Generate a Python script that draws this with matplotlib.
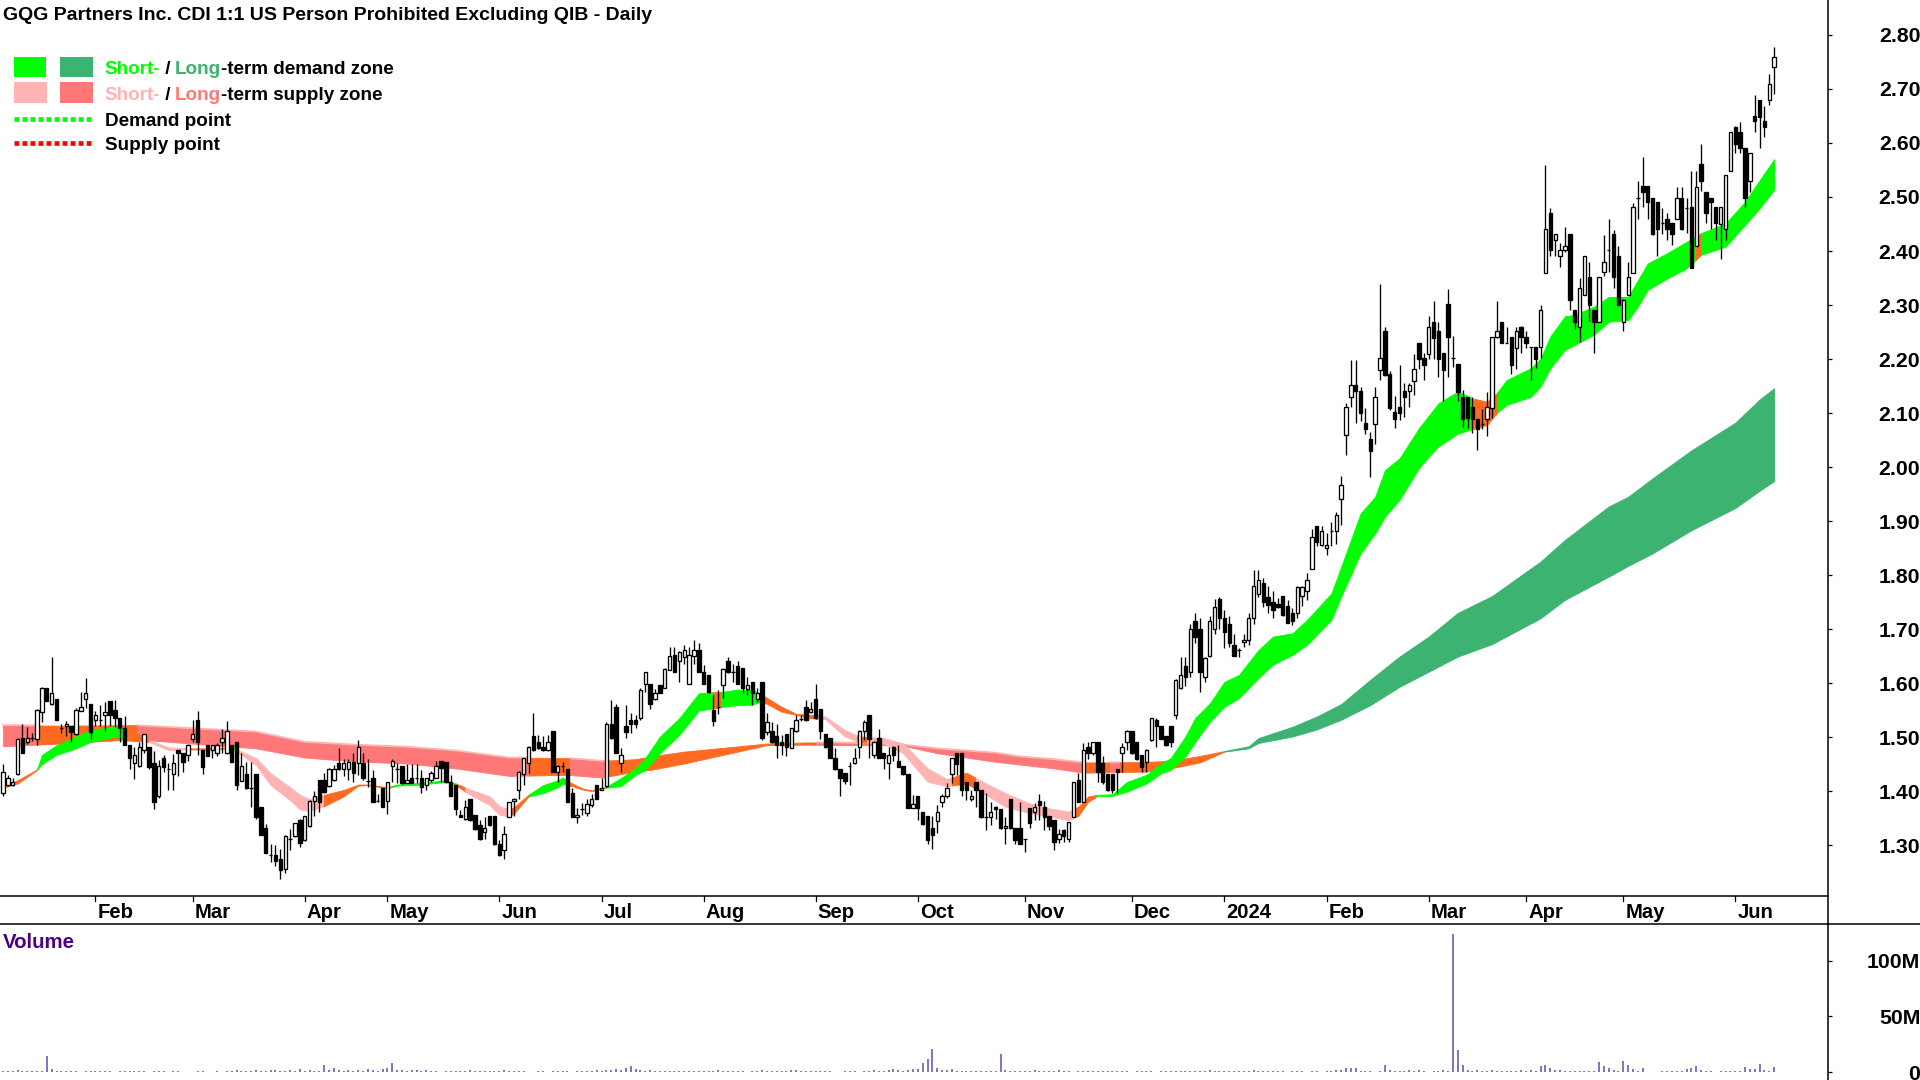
import numpy as np
import matplotlib
matplotlib.use('Agg')
import matplotlib.pyplot as plt
from matplotlib.patches import Rectangle

plt.rcParams['font.family'] = ['Liberation Sans', 'DejaVu Sans']
plt.rcParams['font.weight'] = 'bold'

# Daily candles
opens = [
    1.396,1.411,1.411,1.431,1.499,1.491,1.499,1.496,1.546,1.591,
    1.561,1.570,1.516,1.520,1.520,1.505,1.549,1.570,1.561,1.531,
    1.532,1.540,1.567,1.550,1.535,1.516,1.485,1.451,1.446,1.476,
    1.481,1.451,1.390,1.461,1.441,1.431,1.476,1.470,1.466,1.496,
    1.532,1.476,1.485,1.476,1.470,1.491,1.470,1.485,1.491,1.419,
    1.432,1.406,1.432,1.371,1.332,1.281,1.282,1.275,1.255,1.312,
    1.316,1.346,1.309,1.336,1.382,1.420,1.420,1.409,1.420,1.451,
    1.440,1.440,1.453,1.451,1.451,1.419,1.425,1.382,1.405,1.382,
    1.446,1.441,1.446,1.415,1.425,1.425,1.425,1.411,1.420,1.425,
    1.456,1.453,1.417,1.411,1.356,1.348,1.385,1.356,1.337,1.325,
    1.353,1.353,1.301,1.291,1.351,1.381,1.401,1.431,1.451,1.501,
    1.491,1.482,1.476,1.511,1.435,1.446,1.441,1.396,1.351,1.367,
    1.360,1.375,1.411,1.401,1.409,1.525,1.555,1.451,1.520,1.532,
    1.532,1.535,1.599,1.599,1.570,1.596,1.590,1.625,1.652,1.640,
    1.648,1.599,1.650,1.661,1.621,1.615,1.550,1.555,1.596,1.641,
    1.621,1.632,1.627,1.589,1.601,1.570,1.601,1.510,1.512,1.501,
    1.491,1.506,1.480,1.511,1.533,1.556,1.546,1.570,1.551,1.506,
    1.498,1.461,1.441,1.433,1.446,1.451,1.481,1.512,1.541,1.466,
    1.498,1.470,1.451,1.482,1.456,1.446,1.432,1.369,1.391,1.361,
    1.353,1.331,1.345,1.380,1.390,1.431,1.470,1.470,1.416,1.385,
    1.416,1.401,1.351,1.351,1.370,1.366,1.331,1.385,1.331,1.331,
    1.311,1.368,1.361,1.382,1.371,1.353,1.346,1.311,1.327,1.311,
    1.351,1.420,1.380,1.482,1.470,1.491,1.451,1.432,1.432,1.441,
    1.470,1.490,1.512,1.491,1.467,1.454,1.494,1.532,1.520,1.501,
    1.520,1.540,1.590,1.632,1.620,1.715,1.700,1.612,1.650,1.700,
    1.755,1.720,1.710,1.670,1.661,1.676,1.680,1.720,1.765,1.785,
    1.760,1.750,1.746,1.761,1.742,1.730,1.729,1.761,1.771,1.811,
    1.891,1.856,1.850,1.881,1.881,1.940,2.059,2.130,2.151,2.140,
    2.081,2.051,2.080,2.180,2.251,2.172,2.101,2.111,2.140,2.140,
    2.160,2.230,2.201,2.209,2.269,2.251,2.211,2.301,2.201,2.190,
    2.130,2.130,2.111,2.089,2.080,2.089,2.110,2.240,2.269,2.230,
    2.240,2.220,2.260,2.240,2.222,2.222,2.222,2.360,2.470,2.420,
    2.390,2.401,2.431,2.290,2.260,2.319,2.351,2.290,2.269,2.361,
    2.401,2.431,2.390,2.269,2.319,2.360,2.499,2.520,2.520,2.499,
    2.490,2.451,2.460,2.451,2.460,2.499,2.480,2.481,2.410,2.561,
    2.510,2.499,2.481,2.450,2.440,2.549,2.630,2.620,2.590,2.530,
    2.650,2.680,2.641,2.680,2.740]

highs = [
    1.450,1.430,1.424,1.498,1.524,1.518,1.508,1.551,1.592,1.591,
    1.649,1.570,1.524,1.530,1.520,1.553,1.584,1.610,1.562,1.549,
    1.559,1.565,1.567,1.569,1.535,1.539,1.485,1.482,1.491,1.506,
    1.481,1.475,1.457,1.467,1.451,1.469,1.476,1.470,1.487,1.532,
    1.549,1.476,1.485,1.485,1.488,1.514,1.530,1.485,1.491,1.470,
    1.454,1.454,1.432,1.371,1.339,1.301,1.300,1.292,1.318,1.329,
    1.341,1.348,1.353,1.383,1.400,1.420,1.434,1.442,1.448,1.480,
    1.459,1.459,1.470,1.494,1.470,1.459,1.439,1.394,1.405,1.417,
    1.459,1.451,1.446,1.450,1.450,1.450,1.439,1.425,1.437,1.456,
    1.456,1.453,1.430,1.411,1.365,1.383,1.385,1.356,1.346,1.351,
    1.353,1.353,1.309,1.335,1.380,1.388,1.437,1.462,1.483,1.545,
    1.504,1.501,1.504,1.511,1.448,1.454,1.441,1.405,1.368,1.377,
    1.385,1.394,1.411,1.424,1.527,1.568,1.561,1.479,1.559,1.544,
    1.540,1.590,1.621,1.599,1.588,1.596,1.627,1.667,1.667,1.659,
    1.670,1.667,1.680,1.675,1.633,1.615,1.578,1.587,1.627,1.649,
    1.636,1.640,1.627,1.612,1.601,1.590,1.601,1.545,1.528,1.525,
    1.504,1.506,1.517,1.541,1.540,1.569,1.565,1.599,1.551,1.506,
    1.498,1.479,1.441,1.433,1.453,1.479,1.513,1.532,1.541,1.493,
    1.515,1.470,1.482,1.483,1.485,1.446,1.432,1.393,1.391,1.361,
    1.353,1.353,1.374,1.395,1.414,1.462,1.470,1.470,1.416,1.402,
    1.416,1.401,1.396,1.379,1.373,1.366,1.351,1.385,1.331,1.379,
    1.311,1.368,1.377,1.395,1.382,1.353,1.346,1.329,1.329,1.342,
    1.416,1.433,1.488,1.491,1.491,1.491,1.465,1.432,1.432,1.441,
    1.488,1.513,1.512,1.491,1.467,1.477,1.536,1.536,1.520,1.501,
    1.520,1.607,1.649,1.649,1.710,1.730,1.720,1.648,1.725,1.755,
    1.760,1.735,1.725,1.690,1.664,1.690,1.730,1.810,1.810,1.795,
    1.780,1.770,1.757,1.761,1.754,1.738,1.779,1.779,1.803,1.885,
    1.891,1.890,1.877,1.899,1.916,1.984,2.119,2.199,2.199,2.149,
    2.109,2.064,2.149,2.338,2.259,2.178,2.131,2.188,2.155,2.156,
    2.209,2.230,2.211,2.280,2.308,2.269,2.211,2.329,2.243,2.190,
    2.143,2.130,2.129,2.089,2.108,2.138,2.241,2.308,2.269,2.260,
    2.240,2.259,2.261,2.251,2.222,2.222,2.300,2.559,2.479,2.431,
    2.414,2.444,2.431,2.290,2.350,2.390,2.379,2.290,2.351,2.430,
    2.459,2.439,2.409,2.311,2.379,2.488,2.530,2.574,2.520,2.499,
    2.490,2.480,2.470,2.451,2.518,2.518,2.499,2.548,2.549,2.598,
    2.510,2.499,2.481,2.481,2.541,2.621,2.631,2.638,2.590,2.582,
    2.689,2.680,2.669,2.728,2.777]

lows = [
    1.391,1.410,1.409,1.430,1.470,1.487,1.493,1.485,1.527,1.567,
    1.559,1.532,1.507,1.501,1.491,1.504,1.549,1.553,1.496,1.520,
    1.520,1.512,1.520,1.518,1.491,1.485,1.440,1.422,1.445,1.471,
    1.440,1.367,1.388,1.436,1.402,1.402,1.427,1.436,1.456,1.490,
    1.467,1.432,1.464,1.461,1.464,1.470,1.469,1.453,1.402,1.418,
    1.404,1.371,1.349,1.319,1.285,1.268,1.262,1.238,1.248,1.291,
    1.314,1.297,1.308,1.334,1.353,1.362,1.396,1.407,1.419,1.439,
    1.428,1.420,1.417,1.430,1.420,1.408,1.380,1.380,1.370,1.357,
    1.417,1.415,1.413,1.414,1.414,1.414,1.396,1.402,1.417,1.424,
    1.417,1.415,1.390,1.356,1.351,1.346,1.345,1.328,1.309,1.311,
    1.336,1.300,1.280,1.274,1.351,1.353,1.386,1.412,1.434,1.475,
    1.477,1.475,1.475,1.435,1.417,1.436,1.380,1.351,1.341,1.356,
    1.353,1.371,1.385,1.401,1.407,1.497,1.470,1.436,1.498,1.507,
    1.516,1.532,1.583,1.552,1.569,1.581,1.590,1.624,1.620,1.602,
    1.636,1.598,1.636,1.620,1.599,1.581,1.521,1.543,1.572,1.618,
    1.602,1.598,1.581,1.578,1.559,1.565,1.495,1.504,1.488,1.462,
    1.467,1.464,1.479,1.510,1.530,1.530,1.544,1.533,1.496,1.480,
    1.461,1.439,1.391,1.413,1.412,1.450,1.462,1.495,1.462,1.462,
    1.461,1.440,1.422,1.456,1.444,1.430,1.368,1.368,1.346,1.338,
    1.302,1.292,1.322,1.371,1.388,1.414,1.430,1.391,1.383,1.382,
    1.370,1.350,1.327,1.337,1.348,1.329,1.302,1.329,1.302,1.301,
    1.288,1.332,1.346,1.346,1.327,1.327,1.291,1.303,1.306,1.306,
    1.351,1.379,1.379,1.459,1.467,1.417,1.413,1.400,1.396,1.396,
    1.436,1.476,1.469,1.457,1.436,1.436,1.493,1.482,1.496,1.484,
    1.482,1.533,1.589,1.595,1.612,1.674,1.583,1.602,1.648,1.690,
    1.700,1.664,1.667,1.650,1.648,1.666,1.670,1.710,1.760,1.740,
    1.730,1.720,1.738,1.724,1.711,1.708,1.720,1.742,1.753,1.811,
    1.853,1.854,1.837,1.853,1.857,1.893,2.022,2.112,2.082,2.086,
    2.061,1.981,2.043,2.161,2.169,2.106,2.072,2.087,2.093,2.112,
    2.133,2.181,2.161,2.200,2.200,2.167,2.122,2.167,2.186,2.123,
    2.075,2.072,2.063,2.032,2.070,2.058,2.090,2.238,2.230,2.229,
    2.172,2.181,2.212,2.220,2.161,2.183,2.201,2.359,2.391,2.391,
    2.370,2.399,2.291,2.255,2.232,2.318,2.271,2.211,2.268,2.353,
    2.362,2.331,2.300,2.252,2.318,2.359,2.460,2.482,2.460,2.430,
    2.391,2.431,2.420,2.411,2.459,2.439,2.433,2.369,2.409,2.511,
    2.451,2.440,2.420,2.385,2.420,2.548,2.582,2.581,2.482,2.510,
    2.621,2.591,2.612,2.670,2.691]

closes = [
    1.435,1.425,1.417,1.496,1.470,1.499,1.499,1.550,1.591,1.567,
    1.582,1.532,1.516,1.525,1.510,1.550,1.556,1.582,1.510,1.540,
    1.532,1.546,1.540,1.535,1.516,1.485,1.461,1.466,1.481,1.505,
    1.445,1.380,1.446,1.445,1.441,1.451,1.470,1.454,1.485,1.505,
    1.490,1.445,1.465,1.485,1.485,1.499,1.511,1.454,1.411,1.446,
    1.405,1.406,1.351,1.319,1.285,1.281,1.271,1.254,1.317,1.312,
    1.340,1.304,1.353,1.382,1.390,1.380,1.399,1.440,1.440,1.440,
    1.451,1.453,1.434,1.481,1.424,1.419,1.380,1.382,1.370,1.417,
    1.456,1.441,1.414,1.420,1.415,1.425,1.407,1.425,1.433,1.446,
    1.442,1.417,1.390,1.366,1.351,1.370,1.346,1.330,1.311,1.331,
    1.337,1.301,1.281,1.320,1.380,1.385,1.436,1.461,1.482,1.476,
    1.479,1.476,1.491,1.435,1.446,1.446,1.380,1.351,1.355,1.367,
    1.376,1.385,1.385,1.406,1.525,1.499,1.470,1.467,1.510,1.524,
    1.524,1.587,1.620,1.562,1.581,1.582,1.626,1.650,1.620,1.657,
    1.661,1.651,1.661,1.620,1.599,1.584,1.530,1.555,1.626,1.620,
    1.621,1.599,1.590,1.596,1.581,1.581,1.498,1.527,1.490,1.485,
    1.485,1.482,1.516,1.532,1.533,1.532,1.551,1.535,1.512,1.481,
    1.461,1.440,1.425,1.419,1.446,1.462,1.511,1.527,1.496,1.491,
    1.462,1.461,1.467,1.467,1.445,1.431,1.369,1.376,1.369,1.339,
    1.309,1.319,1.361,1.391,1.405,1.461,1.450,1.401,1.401,1.391,
    1.401,1.351,1.351,1.361,1.367,1.331,1.336,1.331,1.309,1.302,
    1.311,1.340,1.370,1.374,1.351,1.336,1.305,1.320,1.316,1.342,
    1.416,1.380,1.476,1.470,1.490,1.435,1.416,1.401,1.401,1.435,
    1.482,1.512,1.470,1.459,1.445,1.476,1.535,1.520,1.496,1.485,
    1.491,1.606,1.615,1.612,1.700,1.685,1.620,1.646,1.715,1.740,
    1.720,1.695,1.675,1.650,1.661,1.680,1.720,1.780,1.790,1.750,
    1.745,1.735,1.740,1.726,1.712,1.714,1.777,1.777,1.791,1.871,
    1.862,1.881,1.856,1.881,1.911,1.966,2.111,2.151,2.140,2.100,
    2.071,2.030,2.130,2.201,2.170,2.110,2.089,2.100,2.130,2.151,
    2.181,2.200,2.189,2.260,2.238,2.200,2.180,2.240,2.201,2.138,
    2.089,2.090,2.089,2.071,2.080,2.111,2.240,2.251,2.230,2.230,
    2.189,2.251,2.240,2.230,2.222,2.200,2.290,2.440,2.401,2.431,
    2.401,2.410,2.309,2.269,2.331,2.390,2.300,2.269,2.351,2.380,
    2.401,2.351,2.300,2.309,2.351,2.481,2.499,2.510,2.490,2.431,
    2.440,2.451,2.440,2.431,2.499,2.440,2.480,2.369,2.519,2.530,
    2.470,2.490,2.451,2.481,2.540,2.620,2.599,2.590,2.499,2.581,
    2.640,2.649,2.630,2.710,2.760]

# Volume in millions
volumes = [
    0.5,1,1,1.5,1,0.8,1.2,1,0.6,14,
    3,1,0.8,1,0.5,1,0,0.6,0.8,1,
    0.5,1,0.8,0,0.8,0.6,1,0.5,0.8,0.6,
    0,1,0.6,0.5,0,0.5,0.8,0,0,0,
    0.6,1,0,0,0.5,0,1,0.6,1.5,1,
    0.8,1,2,1,0.6,1.5,2,1.2,0.8,2,
    1,3,1,2,1,0.8,6,2,4,2,
    1,1.5,1,2,0.8,3,1.5,1,3,4,
    8,2,2,1,1.5,2,1,1.5,0.5,1,
    0,1,0.5,0.8,1,0.6,2,1,1,1,
    0.8,0.6,1,1.5,1,1.2,0.8,0.6,0,0,
    0.5,0.8,0,0.6,1,0.8,0.5,0,0.6,1,
    1,0.8,2,1,1.5,2,3,2,4,5,
    3,2,1,1.5,1,0.8,1,0.6,1,0.8,
    1.2,1,0.8,1,0.6,1,0.8,1.5,1,0.8,
    0.6,1,0.8,0,1,0.6,1.5,1,0.8,1,
    0.6,1,1.5,2,1,0.8,1,0.6,1,1.2,
    0.8,0,0,0.6,0.8,1,0,0.5,1,1.5,
    1,1.2,2,3,2,1,1.5,3,3,8,
    12,21,4,2,1.5,3,1,1,0.8,0.6,
    0.8,1,0.6,1,0.8,16,2,1,1.2,1,
    0.8,1,1.5,1,0.8,1.2,1,1.5,1,0.8,
    0,0.6,1,0.8,0.5,0.8,1,0.6,1,0.8,
    1.2,0.6,0,0.5,0.8,1,0.6,0,0.8,1,
    1.2,1,0.8,1,0.6,0.8,0.5,1,1.5,1,
    1.2,0.8,1,1.2,1,0.8,1,1.5,1,0.8,
    1,0.8,1,0.6,0,0.8,0.6,0.5,0,0.8,
    0.6,0,0.5,1,2,1.5,4,4,3.6,0.8,
    0.5,0.8,0,0.6,6.6,1.5,0.8,1,0.8,1.5,
    1,1.5,1,0,0.8,1,1.5,1.2,124,20,
    6,1.5,1,1.5,1,0.8,1.5,1,1,0.8,
    1,1.2,1.5,1,1.5,0.8,5,6.6,4,1.5,
    1.5,1,0.8,1,1,0.8,1,1,9,5,
    4,1.5,1,10,6,3,1,3.6,0,0,
    0,0.8,0.8,0.8,1,1,3,3.6,5.4,2,
    1,0.8,0,1,0.8,1,1,0.8,4.5,3,
    3,7.5,1.5,1,4.5]

# Short and long term bands, sampled along the picture
short_x = [0,3,7,8,11,15,18,23,25,30,34,38,43,47,49,52,55,59,61,63,66,70,73,75,79,81,86,91,93,96,
           100,102,104,105,108,111,114,115,117,119,121,124,127,130,132,135,139,143,148,151,154,156,
           160,163,166,169,173,176,181,185,190,194,198,202,206,211,215,219,221,223,225,228,231,235,
           238,240,243,245,248,251,254,258,261,265,268,273,275,279,282,284,287,291,293,295,299,302,305,
           307,309,314,316,318,321,323,327,330,334,336,338,342,346,349,354,358,361,364]
short_upper = [1.409,1.420,1.440,1.467,1.485,1.501,1.513,1.520,1.518,1.494,1.481,1.479,1.479,1.481,1.473,1.461,1.433,1.407,1.393,1.385,1.393,1.402,1.412,1.412,1.407,1.412,1.415,1.420,1.414,1.403,
               1.390,1.372,1.366,1.370,1.393,1.411,1.420,1.425,1.414,1.405,1.401,1.408,1.424,1.442,1.461,1.501,1.535,1.581,1.584,1.588,1.587,1.578,
               1.556,1.543,1.541,1.538,1.513,1.501,1.498,1.488,1.442,1.422,1.434,1.414,1.396,1.377,1.368,1.362,1.371,1.390,1.393,1.394,1.417,1.430,
               1.451,1.461,1.501,1.535,1.562,1.602,1.615,1.661,1.686,1.692,1.717,1.766,1.815,1.914,1.945,1.994,2.016,2.072,2.095,2.118,2.140,2.127,2.121,
               2.137,2.161,2.183,2.201,2.242,2.279,2.282,2.297,2.315,2.315,2.346,2.377,2.396,2.417,2.433,2.451,2.491,2.531,2.570]
short_lower = [1.406,1.414,1.439,1.450,1.467,1.479,1.491,1.501,1.494,1.491,1.476,1.477,1.477,1.479,1.467,1.448,1.411,1.383,1.366,1.363,1.372,1.390,1.410,1.411,1.405,1.410,1.412,1.417,1.411,1.393,
               1.374,1.356,1.353,1.358,1.390,1.396,1.407,1.413,1.409,1.403,1.400,1.406,1.409,1.430,1.439,1.470,1.504,1.549,1.556,1.559,1.560,1.566,
               1.547,1.541,1.535,1.533,1.501,1.490,1.488,1.470,1.417,1.409,1.414,1.393,1.371,1.359,1.353,1.346,1.354,1.380,1.391,1.391,1.399,1.414,
               1.433,1.439,1.464,1.491,1.528,1.556,1.572,1.609,1.634,1.652,1.671,1.717,1.760,1.840,1.877,1.908,1.939,1.998,2.019,2.038,2.062,2.070,2.078,
               2.100,2.115,2.130,2.149,2.183,2.217,2.226,2.245,2.269,2.272,2.297,2.328,2.349,2.368,2.393,2.408,2.448,2.479,2.513]

long_x = [0,12,27,52,62,72,83,93,104,116,123,130,133,140,148,157,165,172,181,186,192,198,204,209,
          216,222,228,235,240,246,251,256,258,265,270,275,281,287,293,299,306,316,321,330,334,339,347,356,361,364]
long_upper = [1.522,1.521,1.522,1.510,1.491,1.486,1.482,1.475,1.462,1.461,1.456,1.459,1.464,1.473,1.480,1.488,1.490,1.490,1.488,1.485,1.479,1.475,1.471,1.464,
              1.459,1.453,1.453,1.454,1.456,1.465,1.474,1.483,1.498,1.519,1.538,1.561,1.606,1.649,1.686,1.730,1.761,1.825,1.865,1.927,1.945,1.979,2.031,2.082,2.125,2.146]
long_lower = [1.483,1.488,1.496,1.479,1.462,1.455,1.451,1.442,1.428,1.430,1.425,1.436,1.439,1.451,1.467,1.485,1.486,1.485,1.485,1.482,1.470,1.462,1.454,1.449,
              1.442,1.434,1.435,1.436,1.442,1.453,1.473,1.479,1.489,1.501,1.514,1.532,1.559,1.593,1.621,1.649,1.672,1.720,1.754,1.797,1.817,1.840,1.883,1.924,1.956,1.974]

# Where each band changes state: bar number it starts at, and the state
short_zone_start = [-0.5,7,25,30,38,46,48,66,80,93,95,104,108,116.5,124,146,147.5,156,167.5,175.5,177.6,195,200,220.5,224.5,302,307,348,349]
short_zone_state = ['mixed','demand','mixed','supply','mixed','demand','supply','mixed','demand','mixed','supply','mixed','demand','mixed','demand','mixed','demand','mixed','supply','mixed','supply','mixed','supply','mixed','demand','mixed','demand','mixed','demand']
long_zone_start = [-0.5,7,27.5,108,116.6,124,167,222,227.5,229.5,251]
long_zone_state = ['supply','mixed','supply','mixed','supply','mixed','supply','mixed','supply','mixed','demand']

month_bars = [19,39,62,79,102,123,144,167,188,210,232,251,272,293,313,333,356]
month_labels = ['Feb','Mar','Apr','May','Jun','Jul','Aug','Sep','Oct','Nov','Dec','2024','Feb','Mar','Apr','May','Jun']
price_ticks = [1.30,1.40,1.50,1.60,1.70,1.80,1.90,2.00,2.10,2.20,2.30,2.40,2.50,2.60,2.70,2.80]
volume_ticks = [0,50,100]
volume_tick_labels = ['0','50M','100M']

short_colors = {'demand': '#00FF00', 'supply': '#FFB3B3', 'mixed': '#FF6A20'}
long_colors = {'demand': '#3CB371', 'supply': '#FF7878', 'mixed': '#FF6A20'}

W, H = 1920, 1080

fig = plt.figure(figsize=(W / 100, H / 100), dpi=100, facecolor='white')
ax = fig.add_axes([0, (H - 896) / H, 1828 / W, 896 / H])
ax_vol = fig.add_axes([0, 0, 1828 / W, (H - 924) / H])

bars = np.arange(len(opens))
xlim = (-0.617, 375.06)
ax.set_xlim(xlim)
ax.set_ylim(1.2056, 2.8648)
ax_vol.set_xlim(xlim)
ax_vol.set_ylim(-7.2, 133.3)


def draw_band(x, upper, lower, starts, states, colors, z):
    # one polygon per state, clipped to the bars the state covers
    ends = starts[1:] + [len(opens)]
    for start, end, state in zip(starts, ends, states):
        clip = Rectangle((start, 0), end - start, 5, transform=ax.transData)
        poly = ax.fill_between(x, upper, lower, color=colors[state], lw=0.6, zorder=z)
        poly.set_clip_path(clip)
        if z == 1 and state == 'supply':
            # long supply band has a paler top edge
            edge, = ax.plot(x, upper, color='#FFB3B3', lw=1.3, zorder=z)
            edge.set_clip_path(clip)


draw_band(long_x, long_upper, long_lower, long_zone_start, long_zone_state, long_colors, 1)
draw_band(short_x, short_upper, short_lower, short_zone_start, short_zone_state, short_colors, 2)

# candles: white when the close is above the open
o = np.array(opens)
c = np.array(closes)
up = c >= o
ax.vlines(bars, lows, highs, color='black', lw=0.95, zorder=3)
ax.bar(bars, np.abs(c - o), bottom=np.minimum(o, c), width=0.7,
       color=np.where(up, 'white', 'black').tolist(), edgecolor='black', linewidth=0.95, zorder=4)

ax_vol.vlines(bars, 0, volumes, color='#5A5AB4', lw=1.15)

# axes
for a in (ax, ax_vol):
    for side in ('left', 'top', 'bottom'):
        a.spines[side].set_visible(False)
    a.spines['right'].set_linewidth(1.1)
    a.yaxis.tick_right()
    a.set_xticks([])
    a.patch.set_alpha(0)

ax.set_yticks(price_ticks)
ax.set_yticklabels(['%.2f' % t for t in price_ticks])
ax_vol.set_yticks(volume_ticks)
ax_vol.set_yticklabels(volume_tick_labels)
for a in (ax, ax_vol):
    a.tick_params(axis='y', length=3, width=0.9, pad=63.5, labelsize=15.3)
    for lab in a.get_yticklabels():
        lab.set_ha('right')
        lab.set_va('center_baseline')

# overlay in picture coordinates for title, legend and rules
top = fig.add_axes([0, 0, 1, 1], zorder=10)
top.set_xlim(0, W)
top.set_ylim(H, 0)
top.axis('off')

top.plot([0, 1828], [896, 896], color='black', lw=1.1)
top.plot([0, W], [924, 924], color='black', lw=1.1)
top.plot([1828, 1828], [896, 924], color='black', lw=1.1)

for bar, label in zip(month_bars, month_labels):
    x = 3 + 4.866 * bar
    top.plot([x, x], [896, 901], color='black', lw=0.9)
    top.text(x + 2, 913, label, ha='left', va='center', fontsize=14.6)

top.text(3, 15, 'GQG Partners Inc. CDI 1:1 US Person Prohibited Excluding QIB - Daily',
         ha='left', va='center', fontsize=14)
top.text(3, 943, 'Volume', ha='left', va='center', fontsize=14.7, color='#4B0082')

top.add_patch(Rectangle((14, 57), 32, 20, color='#00FF00', lw=0))
top.add_patch(Rectangle((60, 57), 33, 20, color='#3CB371', lw=0))
top.add_patch(Rectangle((14, 82), 33, 21, color='#FFB3B3', lw=0))
top.add_patch(Rectangle((60, 82), 33, 21, color='#FF7878', lw=0))
top.plot([14, 92], [119, 119], color='#00FF00', lw=3.4, dashes=(1.0, 0.7))
top.plot([14, 92], [143, 143], color='#FF0000', lw=3.4, dashes=(1.0, 0.7))


def chain_text(x, y, pieces):
    # pieces of one legend line, each with its own colour
    renderer = fig.canvas.get_renderer()
    for s, col in pieces:
        t = top.text(x, y, s, ha='left', va='center_baseline', fontsize=13.6, color=col)
        x = top.transData.inverted().transform(t.get_window_extent(renderer).corners()[2])[0]


chain_text(104, 68, [('Short-', '#00FF00'), (' / ', 'black'), ('Long', '#3CB371'), ('-term demand zone', 'black')])
chain_text(104, 93, [('Short-', '#FFB3B3'), (' / ', 'black'), ('Long', '#FF7878'), ('-term supply zone', 'black')])
top.text(105, 119, 'Demand point', ha='left', va='center_baseline', fontsize=13.6)
top.text(105, 143, 'Supply point', ha='left', va='center_baseline', fontsize=13.6)

fig.savefig('out.png', dpi=100, facecolor='white')
